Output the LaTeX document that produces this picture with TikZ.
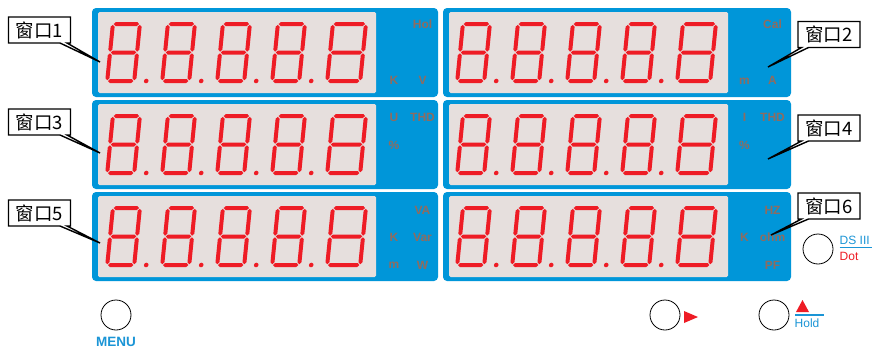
\documentclass[tikz,border=0pt]{standalone}
\usepackage{fontspec}
\setmainfont{Liberation Sans}
\newfontfamily\cjkf{Noto Sans CJK SC}
\usetikzlibrary{shapes.callouts}
\definecolor{panelblue}{HTML}{0096D9}
\definecolor{lcdgray}{HTML}{E6DFDD}
\definecolor{segred}{HTML}{EE1C25}
\definecolor{unitbrown}{HTML}{8E6C60}
\definecolor{keyblue}{HTML}{1B95D6}
\newcommand\dighs[3]{\fill[segred] ({#1+0.8},{#3}) -- ({#1+2.8},{#3-2}) -- ({#2-2.8},{#3-2}) -- ({#2-0.8},{#3}) -- ({#2-2.8},{#3+2}) -- ({#1+2.8},{#3+2}) -- cycle;}
\newcommand\digvs[3]{\fill[segred] ({#1},{#2+0.8}) -- ({#1+2},{#2+2.8}) -- ({#1+2},{#3-2.8}) -- ({#1},{#3-0.8}) -- ({#1-2},{#3-2.8}) -- ({#1-2},{#2+2.8}) -- cycle;}
\newcommand\segdigit[1]{%
 \dighs{2}{#1-2}{-59}\dighs{2}{#1-2}{-30.5}\dighs{2}{#1-2}{-2}%
 \digvs{2}{-59}{-30.5}\digvs{#1-2}{-59}{-30.5}\digvs{2}{-30.5}{-2}\digvs{#1-2}{-30.5}{-2}}
\begin{document}
\begin{tikzpicture}[x=1pt,y=-1pt,
 panel/.style={fill=panelblue, rounded corners=4pt},
 lcd/.style={fill=lcdgray, rounded corners=1.5pt},
 unit/.style={text=unitbrown, font=\bfseries\fontsize{12}{12}\selectfont, inner sep=0pt},
 callbox/.style={rectangle callout, draw=black, line width=1.4pt, fill=white, minimum width=62pt, minimum height=26pt, inner sep=0pt, callout pointer width=7pt, font=\cjkf\fontsize{18.5}{19}\selectfont},
 keybtn/.style={circle, draw=black, line width=0.8pt, minimum size=30pt, inner sep=0pt},
 keytext/.style={inner sep=0pt, anchor=west, font=\fontsize{12}{12}\selectfont}
]
\useasboundingbox (0,0) rectangle (872,348);
\fill[white] (0,0) rectangle (872,348);
\foreach \r in {0,1,2} {
  \pgfmathsetmacro\yt{8+92*\r}
  \fill[panel] (92,\yt) rectangle (438,{\yt+89});
  \fill[panel] (443,\yt) rectangle (791,{\yt+89});
  \fill[lcd] (98,{\yt+4}) rectangle (376,{\yt+85});
  \fill[lcd] (449,{\yt+4}) rectangle (728,{\yt+85});
  \foreach \p in {0,350} {
    \foreach \i in {0,...,4} {
      \pgfmathsetmacro\dx{105+\p+55*\i}
      \pgfmathsetmacro\dw{\i==4 ? 37 : 31}
      \begin{scope}[shift={(\dx,{\yt+75})}, xslant=0.1]
        \segdigit{\dw}
        \ifnum\i<4 \fill[segred] ({\dw+10},-2) circle (2.3pt); \fi
      \end{scope}
    }
  }
}
% units
\node[unit] (u1a) at (422.5,24.5) {Hol};
\node[unit] (u1b) at (394,80.5) {K};
\node[unit] (u1c) at (422.5,80.5) {V};
\node[unit] (u2a) at (772.5,24.5) {Cal};
\node[unit] (u2b) at (744.5,81.5) {m};
\node[unit] (u2c) at (772.5,80.5) {A};
\node[unit] (u3a) at (394,117.5) {U};
\node[unit] (u3b) at (422.5,117.5) {THD};
\node[unit] (u3c) at (394,145.5) {\%};
\node[unit] (u4a) at (744.5,117.5) {I};
\node[unit] (u4b) at (772.5,117.5) {THD};
\node[unit] (u4c) at (744.5,145.5) {\%};
\node[unit] (u5a) at (422.5,210) {VA};
\node[unit] (u5b) at (394,237.5) {K};
\node[unit] (u5c) at (422.5,237.5) {Var};
\node[unit] (u5d) at (394,265.5) {m};
\node[unit] (u5e) at (422.5,265.5) {W};
\node[unit] (u6a) at (772.5,210) {HZ};
\node[unit] (u6b) at (744.5,237.5) {K};
\node[unit] (u6c) at (772.5,237.5) {ohm};
\node[unit] (u6d) at (772.5,265.5) {PF};
% callouts
\node[callbox, callout absolute pointer={(100,62)}] (c1) at (39.5,30) {窗口1};
\node[callbox, callout absolute pointer={(768,67)}] (c2) at (829,34.5) {窗口2};
\node[callbox, callout absolute pointer={(100,153)}] (c3) at (39.5,122) {窗口3};
\node[callbox, callout absolute pointer={(768,159)}] (c4) at (829,128) {窗口4};
\node[callbox, callout absolute pointer={(100,243)}] (c5) at (39.5,213) {窗口5};
\node[callbox, callout absolute pointer={(771,235)}] (c6) at (829,206) {窗口6};
% keys
\node[keybtn] (menu) at (116,315) {};
\node[inner sep=0pt, text=keyblue, font=\bfseries\fontsize{13.5}{14}\selectfont] (menul) at (116,342) {MENU};
\node[keybtn] (kright) at (665,315) {};
\fill[segred] (684,311) -- (684,323) -- (698,317) -- cycle;
\node[keybtn] (khold) at (774,315) {};
\fill[segred] (796,312) -- (809,312) -- (802.5,300) -- cycle;
\coordinate (hl1) at (795,315);
\coordinate (hl2) at (824,315);
\draw[keyblue, line width=1.6pt] (hl1) -- (hl2);
\node[keytext, text=keyblue] (holdl) at (794.5,323.5) {Hold};
\node[keybtn] (kds) at (818,249) {};
\node[keytext, text=keyblue] (dsl) at (839.5,240) {DS III};
\coordinate (dl1) at (839.5,247.5);
\coordinate (dl2) at (872,247.5);
\draw[keyblue, line width=1.2pt] (dl1) -- (dl2);
\node[keytext, text=segred] (dotl) at (839.5,256) {Dot};
\end{tikzpicture}
\end{document}
